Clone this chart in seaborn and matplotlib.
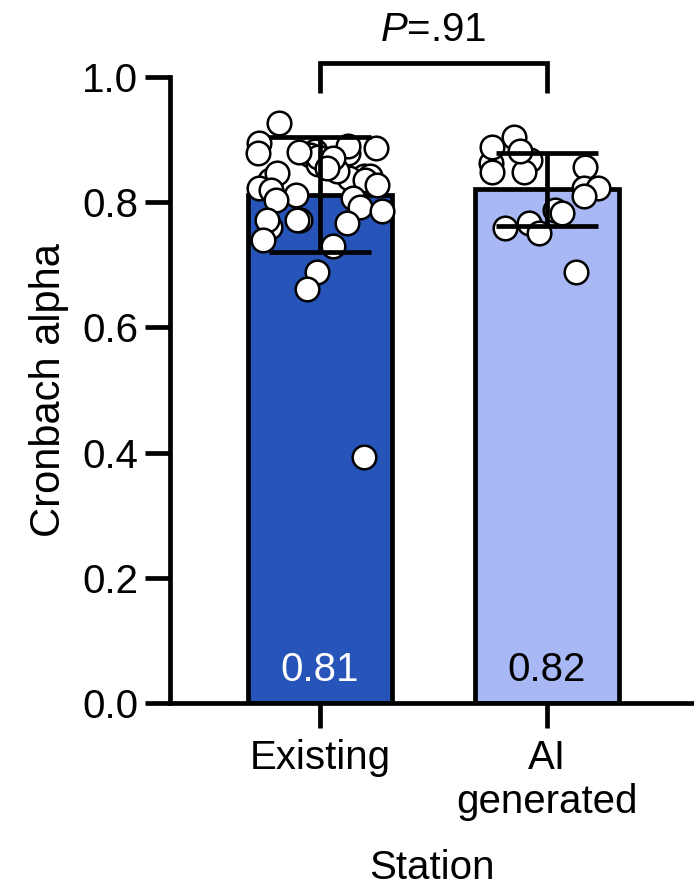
import numpy as np
import pandas as pd
import matplotlib
matplotlib.use("Agg")
import matplotlib.pyplot as plt
import seaborn as sns

# data
stations = ["Existing", "AI\ngenerated"]
existing = [0.927, 0.895, 0.881, 0.878, 0.875, 0.861, 0.879, 0.873, 0.886, 0.842,
            0.838, 0.835, 0.842, 0.835, 0.846, 0.850, 0.822, 0.819, 0.811, 0.803,
            0.806, 0.793, 0.772, 0.772, 0.761, 0.772, 0.767, 0.730, 0.740, 0.689,
            0.662, 0.393, 0.890, 0.870, 0.855, 0.828, 0.786, 0.880]
ai_generated = [0.904, 0.857, 0.862, 0.867, 0.849, 0.849, 0.888, 0.881, 0.822,
                0.822, 0.810, 0.788, 0.782, 0.766, 0.758, 0.751, 0.689]
p_text = "=.91"
bar_colors = ["#2754B8", "#A8B8F5"]
label_colors = ["white", "black"]

df = pd.DataFrame({
    "Station": [stations[0]] * len(existing) + [stations[1]] * len(ai_generated),
    "alpha": existing + ai_generated,
})

sns.set_style("ticks")
plt.rcParams["font.family"] = ["Liberation Sans", "DejaVu Sans"]
plt.rcParams["mathtext.fontset"] = "custom"
plt.rcParams["mathtext.it"] = "Liberation Sans:italic"
plt.rcParams["mathtext.rm"] = "Liberation Sans"
for k in ["text.color", "axes.labelcolor", "xtick.color", "ytick.color", "axes.edgecolor"]:
    plt.rcParams[k] = "black"

fig = plt.figure(figsize=(6.94, 8.93), dpi=100)
ax = fig.add_axes([170 / 694, 190 / 893, 524 / 694, 626 / 893])

lw = 3.4
sns.barplot(data=df, x="Station", y="alpha", hue="Station", palette=bar_colors,
            order=stations, errorbar="sd", capsize=0.45, width=0.634, saturation=1,
            edgecolor="black", linewidth=lw, err_kws={"linewidth": lw, "color": "black"},
            legend=False, ax=ax)
np.random.seed(11)
sns.stripplot(data=df, x="Station", y="alpha", order=stations, jitter=0.28,
              color="white", edgecolor="black", linewidth=1.8, size=17, ax=ax)

for p in ax.patches:
    p.set_zorder(1)
for c in ax.collections:
    c.set_zorder(3)
for l in ax.lines:
    l.set_zorder(4)
    l.set_solid_capstyle("butt")

# mean labels inside bars
means = df.groupby("Station", sort=False)["alpha"].mean()
for i, s in enumerate(stations):
    ax.text(i, 0.035, f"{means[s]:.2f}", ha="center", va="baseline",
            fontsize=29, color=label_colors[i])

# significance bracket
ax.plot([0, 0, 1, 1], [0.974, 1.022, 1.022, 0.974], color="black", lw=lw,
        clip_on=False, solid_capstyle="butt", solid_joinstyle="miter")
ax.text(0.5, 1.058, r"$\it{P}$" + p_text, ha="center", va="baseline", fontsize=29,
        clip_on=False)

ax.set_xlim(-0.66, 1.648)
ax.set_ylim(0, 1.0)
ax.set_yticks([0.0, 0.2, 0.4, 0.6, 0.8, 1.0])
ax.set_yticklabels(["0.0", "0.2", "0.4", "0.6", "0.8", "1.0"])
ax.set_ylabel("Cronbach alpha", fontsize=30, labelpad=9)
ax.set_xlabel("Station", fontsize=29, labelpad=20)
ax.tick_params(axis="both", labelsize=29, width=lw, length=18, pad=5)
ax.tick_params(axis="x", pad=8)
for side in ["top", "right"]:
    ax.spines[side].set_visible(False)
for side in ["left", "bottom"]:
    ax.spines[side].set_linewidth(lw)

fig.savefig("out.png", dpi=100)
